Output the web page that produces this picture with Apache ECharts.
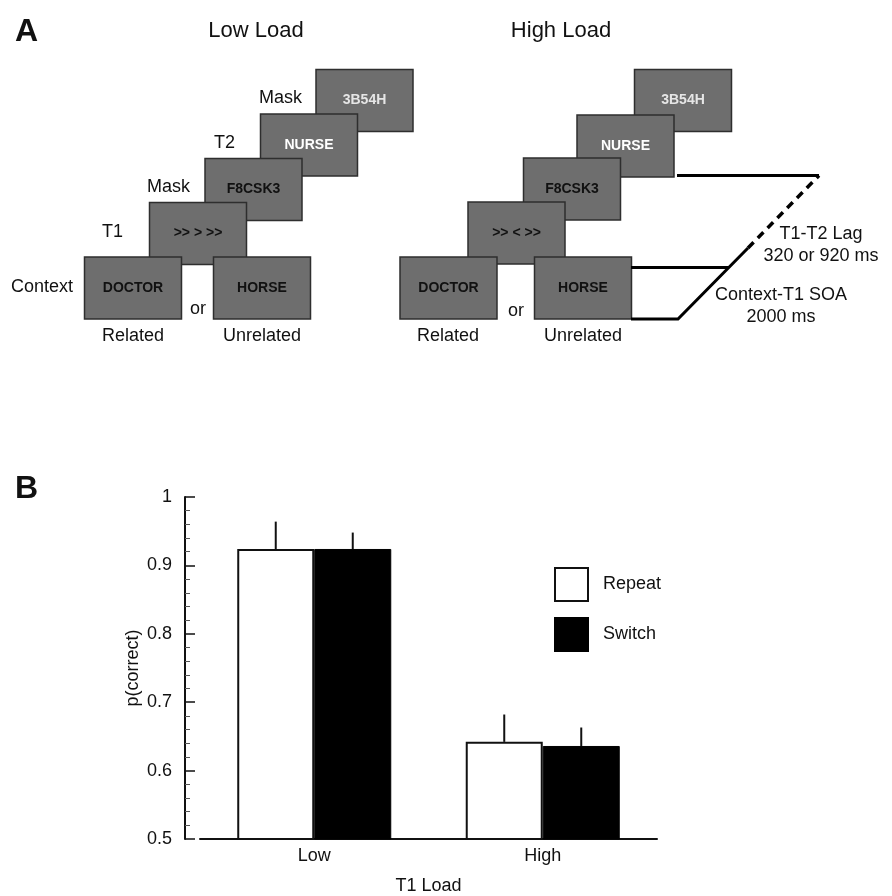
<!DOCTYPE html>
<html>
<head>
<meta charset="utf-8">
<script src="https://cdn.jsdelivr.net/npm/echarts@6/dist/echarts.min.js"></script>
<style>
  html, body { margin: 0; padding: 0; background: #fff; }
  #main { width: 892px; height: 896px; }
</style>
</head>
<body>
<div id="main"></div>
<script>
// data for panel B
var categories = ['Low', 'High'];
var repeatMean = [0.924, 0.642];
var repeatErr = [0.040, 0.040];
var switchMean = [0.924, 0.636];
var switchErr = [0.024, 0.027];
var yTicks = [0.5, 0.6, 0.7, 0.8, 0.9, 1];

// stimuli of panel A
var lowStims = ['3B54H', 'NURSE', 'F8CSK3', '>> > >>', 'DOCTOR', 'HORSE'];
var highStims = ['3B54H', 'NURSE', 'F8CSK3', '>> < >>', 'DOCTOR', 'HORSE'];

var FONT = '"Liberation Sans", Arial, Helvetica, sans-serif';
var BAR_FRAC = 0.337;

var myChart = echarts.init(document.getElementById('main'));

// box: left, top, text colour
function box(x, y, label, color, z) {
    return {
        type: 'group', x: x, y: y, z: z,
        children: [
            { type: 'rect', shape: { x: 0, y: 0, width: 97, height: 62 },
              style: { fill: '#6e6e6e', stroke: '#2e2e2e', lineWidth: 1.5 }, z: z },
            { type: 'text', x: 48.5, y: 31, z: z + 1,
              style: { text: label, fill: color, font: 'bold 14px ' + FONT,
                       textAlign: 'center', textVerticalAlign: 'middle' } }
        ]
    };
}
function txt(x, y, s, align, size, weight) {
    return { type: 'text', x: x, y: y, z: 20,
        style: { text: s, fill: '#111', font: (weight || 'normal') + ' ' + (size || 18) + 'px ' + FONT,
                 textAlign: align || 'left', textVerticalAlign: 'middle' } };
}

var boxColors = ['#e6e6e6', '#ffffff', '#111', '#111', '#111', '#111'];
var lowPos = [[316, 69.5], [260.5, 114], [205, 158.5], [149.5, 202.5], [84.5, 257], [213.5, 257]];
var highPos = [[634.5, 69.5], [577, 115], [523.5, 158], [468, 202], [400, 257], [534.5, 257]];

var graphics = [];
for (var i = 0; i < lowStims.length; i++) {
    graphics.push(box(lowPos[i][0], lowPos[i][1], lowStims[i], boxColors[i], 10 + i * 2));
    graphics.push(box(highPos[i][0], highPos[i][1], highStims[i], boxColors[i], 10 + i * 2));
}
graphics.push(
    txt(15, 32, 'A', 'left', 32, 'bold'),
    txt(15, 489, 'B', 'left', 32, 'bold'),
    txt(256, 31, 'Low Load', 'center', 22),
    txt(561, 31, 'High Load', 'center', 22),
    txt(302, 98, 'Mask', 'right'),
    txt(235, 143, 'T2', 'right'),
    txt(190, 187, 'Mask', 'right'),
    txt(123, 232, 'T1', 'right'),
    txt(73, 287, 'Context', 'right'),
    txt(198, 309, 'or', 'center'),
    txt(133, 336, 'Related', 'center'),
    txt(262, 336, 'Unrelated', 'center'),
    txt(516, 311, 'or', 'center'),
    txt(448, 336, 'Related', 'center'),
    txt(583, 336, 'Unrelated', 'center'),
    txt(821, 234, 'T1-T2 Lag', 'center'),
    txt(821, 256, '320 or 920 ms', 'center'),
    txt(781, 295, 'Context-T1 SOA', 'center'),
    txt(781, 317, '2000 ms', 'center'),
    { type: 'line', z: 20, shape: { x1: 677, y1: 175.5, x2: 819, y2: 175.5 },
      style: { stroke: '#000', lineWidth: 3 } },
    { type: 'line', z: 20, shape: { x1: 631, y1: 267.5, x2: 729, y2: 267.5 },
      style: { stroke: '#000', lineWidth: 3 } },
    { type: 'polyline', z: 20, shape: { points: [[631, 319], [678, 319], [748, 248]] },
      style: { stroke: '#000', lineWidth: 3, fill: null } },
    { type: 'line', z: 20, shape: { x1: 748, y1: 248, x2: 819, y2: 175.5 },
      style: { stroke: '#000', lineWidth: 3.5, lineDash: [8, 6] } }
);

function errData(mean, err) {
    return mean.map(function (m, i) { return [i, m, err[i]]; });
}
function errRender(sign) {
    return function (params, api) {
        var band = api.size([1, 0])[0];
        var p0 = api.coord([api.value(0), api.value(1)]);
        var p1 = api.coord([api.value(0), api.value(1) + api.value(2)]);
        var x = p0[0] + sign * band * BAR_FRAC / 2;
        return { type: 'line', shape: { x1: x, y1: p0[1], x2: x, y2: p1[1] },
                 style: { stroke: '#111', lineWidth: 2 } };
    };
}

option = {
    backgroundColor: '#fff',
    animation: false,
    textStyle: { fontFamily: FONT },
    graphic: { elements: graphics },
    legend: {
        orient: 'vertical', left: 549, top: 562,
        itemWidth: 33, itemHeight: 33, itemGap: 15,
        icon: 'rect',
        textStyle: { fontSize: 18, color: '#111', fontFamily: FONT, padding: [0, 0, 0, 10] },
        data: ['Repeat', 'Switch']
    },
    grid: { left: 200, right: 235, top: 497, bottom: 56, containLabel: false },
    xAxis: {
        type: 'category',
        data: categories,
        name: 'T1 Load', nameLocation: 'middle', nameGap: 38,
        nameTextStyle: { fontSize: 18, color: '#111', fontFamily: FONT },
        axisLine: { lineStyle: { color: '#111', width: 2 } },
        axisTick: { show: false },
        axisLabel: { fontSize: 18, color: '#111', margin: 8, fontFamily: FONT }
    },
    yAxis: {
        type: 'value',
        min: yTicks[0], max: yTicks[yTicks.length - 1], interval: 0.1,
        offset: 15,
        name: 'p(correct)', nameLocation: 'middle', nameGap: 43,
        nameMoveOverlap: false,
        nameTextStyle: { fontSize: 18, color: '#111', fontFamily: FONT },
        axisLine: { show: true, lineStyle: { color: '#111', width: 2 } },
        axisTick: { show: true, inside: true, length: 10, lineStyle: { color: '#111', width: 1.5 } },
        minorTick: { show: true, splitNumber: 5, length: 5, lineStyle: { color: '#555', width: 1 } },
        splitLine: { show: false },
        axisLabel: { fontSize: 18, color: '#111', margin: 13, fontFamily: FONT,
                     formatter: function (v) { return String(Math.round(v * 10) / 10); } }
    },
    series: [
        { name: 'Repeat', type: 'bar', data: repeatMean, barWidth: (BAR_FRAC * 100) + '%', barGap: '0%',
          itemStyle: { color: '#fff', borderColor: '#111', borderWidth: 2 } },
        { name: 'Switch', type: 'bar', data: switchMean, barWidth: (BAR_FRAC * 100) + '%', barGap: '0%',
          itemStyle: { color: '#000', borderColor: '#000', borderWidth: 1 } },
        { name: 'RepeatErr', type: 'custom', renderItem: errRender(-1), data: errData(repeatMean, repeatErr), z: 5 },
        { name: 'SwitchErr', type: 'custom', renderItem: errRender(1), data: errData(switchMean, switchErr), z: 5 }
    ]
};

myChart.setOption(option);
</script>
</body>
</html>
